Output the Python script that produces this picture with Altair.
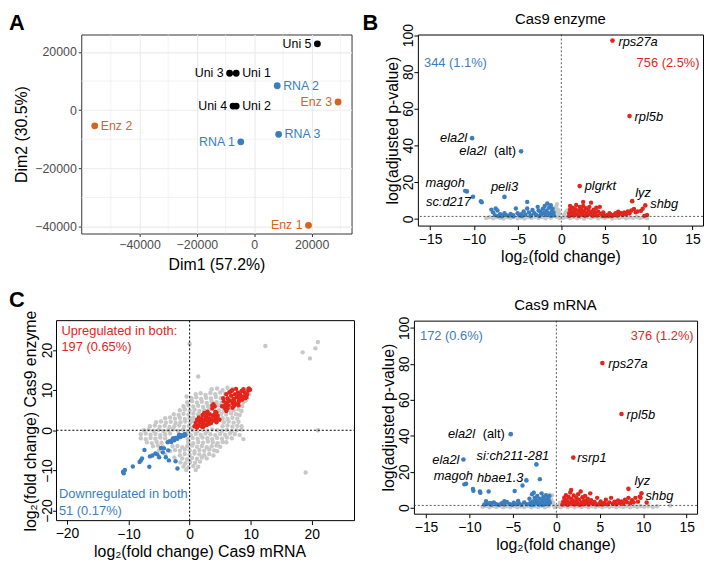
import altair as alt
import pandas as pd

FONT = "Liberation Sans"
BLUE = "#3a7ec0"
RED = "#e2261c"
ORANGE = "#d9621d"
GREY = "#c8c8c8"

# ---------------- Panel A: PCA ----------------
A_SAMPLES = ["Uni 1", "Uni 2", "Uni 3", "Uni 4", "Uni 5",
             "RNA 1", "RNA 2", "RNA 3", "Enz 1", "Enz 2", "Enz 3"]
A_DIM1 = [-6300, -6300, -8600, -7400, 22000, -4700, 8000, 8500, 18900, -55600, 29200]
A_DIM2 = [12700, 1400, 12700, 1400, 22800, -10900, 8400, -8300, -39600, -5400, 2800]
A_GROUP = ["Uninjected"] * 5 + ["Cas9 mRNA"] * 3 + ["Cas9 enzyme"] * 3
A_LEFT_LABELS = {"Uni 3", "Uni 4", "Uni 5", "RNA 1", "Enz 1", "Enz 3"}

# ---------------- Panel B: volcano, Cas9 enzyme ----------------
B_GREY = [(-8.6, 0.4), (-8.2, 0.8), (-7.8, 0.3), (-7.4, 0.9), (-7.0, 0.5), (-6.6, 0.2),
          (-6.2, 0.8), (-5.8, 0.4), (-5.4, 1.0), (-5.0, 0.3), (-4.6, 0.7), (-4.2, 0.2),
          (-3.8, 0.9), (-3.4, 0.5), (-3.0, 1.1), (-2.6, 0.4), (-2.2, 0.9), (-1.8, 0.3),
          (-1.5, 1.2), (-1.2, 0.6), (-0.9, 2.0), (-0.7, 3.5), (-0.5, 1.0), (-0.4, 5.0),
          (-0.3, 2.5), (-0.2, 0.5), (-0.6, 6.5), (-0.8, 4.5), (-0.5, 8.0), (-0.3, 3.8),
          (0.2, 0.6), (0.3, 2.0), (0.5, 3.5), (0.6, 1.0), (0.7, 4.6), (1.0, 0.4), (1.4, 0.9),
          (1.8, 0.3), (2.2, 0.8), (2.6, 0.2), (3.0, 0.9), (3.4, 0.5), (3.8, 1.0), (4.2, 0.3),
          (4.6, 0.8), (5.0, 0.4), (5.4, 0.9), (5.8, 0.2), (6.2, 0.7), (6.6, 0.4), (7.0, 0.9),
          (7.4, 0.3), (7.8, 0.8), (8.2, 0.5), (8.6, 1.0), (9.0, 0.4), (9.4, 0.8), (9.8, 0.3)]
B_BLUE = [(-11.0, 15.2), (-9.2, 9.6), (-9.1, 9.0),
          (-8.0, 5.0), (-7.8, 3.5), (-7.6, 2.0), (-7.5, 5.6), (-7.3, 4.5), (-7.0, 2.5),
          (-6.8, 1.8), (-6.5, 3.0), (-6.3, 2.0), (-6.0, 1.6), (-5.8, 2.6), (-5.5, 2.0),
          (-5.2, 5.6), (-5.0, 3.0), (-4.8, 1.9), (-4.6, 2.5), (-4.3, 4.0), (-4.1, 2.2),
          (-3.9, 9.2), (-3.9, 5.6), (-3.7, 3.5), (-3.5, 2.0), (-3.3, 4.8), (-3.1, 3.0),
          (-2.9, 2.2), (-2.7, 6.5), (-2.6, 4.5), (-2.4, 3.9), (-2.3, 2.5), (-2.1, 5.5),
          (-2.0, 3.2), (-1.9, 7.0), (-1.8, 2.0), (-1.7, 4.5), (-1.6, 8.3), (-1.5, 3.0),
          (-1.4, 6.0), (-1.3, 2.2), (-1.2, 7.4), (-1.1, 4.0), (-1.0, 5.5), (-1.0, 2.5),
          (-0.9, 3.5), (-0.85, 1.8), (-1.2, 1.6), (-2.5, 1.5), (-3.5, 1.5), (-4.5, 1.5),
          (-5.5, 1.4), (-6.8, 1.4), (-7.2, 1.5)]
B_RED = [(0.9, 1.5), (0.9, 3.0), (1.0, 5.0), (1.0, 7.0), (1.1, 2.2), (1.2, 4.0), (1.3, 6.0),
         (1.4, 1.8), (1.5, 3.3), (1.6, 5.2), (1.7, 7.5), (1.8, 2.5), (1.9, 4.5), (2.0, 1.5),
         (2.1, 6.5), (2.2, 3.5), (2.3, 5.0), (2.4, 2.2), (2.5, 9.2), (2.5, 7.0), (2.6, 4.0),
         (2.7, 1.7), (2.8, 5.8), (2.9, 3.0), (3.0, 2.0), (3.1, 4.8), (3.2, 6.5), (3.3, 2.6),
         (3.4, 8.8), (3.5, 3.8), (3.6, 1.6), (3.7, 5.0), (3.8, 2.5), (3.9, 3.5), (4.0, 6.0),
         (4.1, 1.8), (4.2, 4.0), (4.4, 6.5), (4.5, 2.8), (4.7, 1.6), (4.8, 3.5),
         (5.0, 1.5), (5.2, 2.0), (5.4, 1.7), (5.6, 2.5), (5.8, 1.5), (6.0, 2.2), (6.2, 3.0),
         (6.4, 1.8), (6.6, 2.6), (6.8, 3.2), (7.0, 2.0), (7.2, 3.5), (7.4, 2.4), (7.6, 4.0),
         (7.8, 3.0), (8.0, 4.5), (8.3, 5.3), (8.5, 3.5), (8.7, 4.0), (9.1, 4.3), (9.3, 5.5),
         (9.5, 1.6), (9.8, 2.1), (5.5, 3.0), (6.5, 3.8)]
B_LABELED = [("rps27a", 5.85, 97.0, "up"), ("rpl5b", 7.8, 55.9, "up"),
             ("ela2l", -10.2, 43.9, "down"), ("ela2l (alt)", -4.6, 36.7, "down"),
             ("magoh", -10.8, 14.9, "down"), ("sc:d217", -10.1, 12.0, "down"),
             ("peli3", -6.5, 11.9, "down"), ("plgrkt", 2.1, 17.8, "up"),
             ("lyz", 8.1, 9.6, "up"), ("shbg", 9.6, 7.3, "up")]
B_COUNTS = ["344 (1.1%)", "756 (2.5%)"]

# ---------------- Panel D: volcano, Cas9 mRNA ----------------
D_GREY = [(-8.5, 0.5), (-8.1, 1.0), (-7.7, 0.3), (-7.3, 0.9), (-6.9, 0.4), (-6.5, 1.1),
          (-6.1, 0.3), (-5.7, 0.8), (-5.3, 0.4), (-4.9, 1.0), (-4.5, 0.3), (-4.1, 0.8),
          (-3.7, 0.4), (-3.3, 1.0), (-2.9, 0.3), (-2.5, 0.9), (-2.1, 0.4), (-1.7, 1.1),
          (-1.3, 0.3), (-0.9, 0.9), (-0.8, 7.1), (-0.5, 6.9), (-0.4, 3.0), (-0.3, 1.2),
          (-0.6, 4.5), (-0.2, 0.4), (0.2, 0.8), (0.4, 2.6), (0.5, 0.3), (0.9, 1.0), (1.3, 0.4),
          (1.7, 1.0), (2.1, 0.3), (2.5, 0.9), (2.9, 0.4), (3.3, 1.0), (3.7, 0.3), (4.1, 0.8),
          (4.5, 0.4), (4.9, 1.0), (5.3, 0.3), (5.7, 0.9), (6.1, 0.4), (6.5, 1.0), (6.9, 0.3),
          (7.3, 0.8), (7.7, 0.4), (8.1, 1.0), (8.5, 0.3), (8.9, 0.9), (9.3, 0.4), (9.7, 1.0),
          (10.1, 0.5), (10.6, 0.9), (11.1, 0.4), (11.6, 0.8), (13.1, 1.3)]
D_BLUE = [(-10.6, 13.0), (-9.6, 10.4), (-9.55, 9.5), (-8.8, 9.0), (-8.75, 8.3), (-7.8, 9.0),
          (-8.0, 2.6), (-8.1, 3.7), (-4.8, 9.3), (-4.4, 3.8), (-1.9, 15.9), (-2.6, 8.4),
          (-3.9, 12.4), (-8.3, 1.8), (-7.9, 2.2), (-7.5, 1.7), (-7.2, 3.0), (-6.9, 2.0),
          (-6.6, 1.7), (-6.3, 2.5), (-6.0, 1.8), (-5.7, 3.2), (-5.4, 2.1), (-5.1, 1.7),
          (-4.9, 2.8), (-4.6, 1.9), (-4.3, 2.4), (-4.0, 1.7), (-3.7, 3.0), (-3.4, 2.0),
          (-3.1, 5.0), (-3.0, 2.6), (-2.8, 7.5), (-2.7, 3.5), (-2.6, 1.8), (-2.5, 5.5),
          (-2.4, 2.5), (-2.3, 4.2), (-2.2, 6.5), (-2.1, 3.0), (-2.0, 1.8), (-1.9, 5.0),
          (-1.8, 2.4), (-1.7, 8.0), (-1.6, 3.6), (-1.5, 6.0), (-1.4, 2.0), (-1.3, 4.5),
          (-1.2, 7.0), (-1.1, 3.0), (-1.0, 5.5), (-0.95, 2.0), (-0.85, 4.0), (-0.8, 6.5),
          (-0.75, 2.8), (-1.6, 1.7), (-2.9, 1.7), (-6.0, 3.6), (-7.6, 2.6)]
D_RED = [(0.7, 1.8), (0.8, 3.5), (0.9, 5.5), (1.0, 2.5), (1.1, 7.0), (1.2, 4.2), (1.3, 1.7),
         (1.4, 6.0), (1.5, 3.0), (1.6, 8.5), (1.7, 9.9), (1.7, 5.0), (1.8, 2.2), (1.9, 4.0),
         (2.0, 6.8), (2.1, 1.8), (2.2, 3.3), (2.3, 5.5), (2.4, 2.5), (2.5, 7.5), (2.6, 4.5),
         (2.7, 1.7), (2.8, 9.0), (2.9, 3.0), (3.0, 5.8), (3.1, 2.0), (3.2, 4.0), (3.3, 6.5),
         (3.4, 2.6), (3.5, 3.6), (3.6, 5.0), (3.7, 1.8), (3.8, 2.8), (3.9, 8.0), (4.0, 4.2),
         (4.2, 2.2), (4.4, 3.2), (4.6, 1.8), (4.7, 5.5), (4.9, 2.0), (5.1, 3.5), (5.3, 1.8),
         (5.5, 2.6), (5.7, 4.5), (5.9, 2.0), (6.1, 3.0), (6.3, 5.5), (6.5, 2.2), (6.7, 3.4),
         (6.9, 2.0), (7.1, 4.0), (7.3, 2.6), (7.5, 3.5), (7.7, 2.2), (7.9, 4.5), (8.1, 3.2),
         (8.3, 5.5), (8.5, 2.5), (8.7, 4.2), (8.9, 3.0), (9.1, 5.5), (9.4, 3.4), (9.6, 6.2),
         (10.4, 2.9), (9.7, 5.5)]
D_LABELED = [("rps27a", 5.3, 80.4, "up"), ("rpl5b", 7.5, 52.1, "up"),
             ("ela2l (alt)", -5.25, 40.9, "down"), ("ela2l", -10.7, 26.8, "down"),
             ("si:ch211-281", -2.3, 24.1, "down"), ("rsrp1", 1.95, 27.9, "up"),
             ("magoh", -10.4, 13.3, "down"), ("hbae1.3", -3.45, 15.2, "down"),
             ("lyz", 8.3, 10.5, "up"), ("shbg", 9.8, 8.0, "up")]
D_COUNTS = ["172 (0.6%)", "376 (1.2%)"]

# ---------------- Panel C: mRNA vs enzyme fold changes ----------------
C_GREY = [(3.6, 10.2), (4.5, 10.4), (5.4, 10.0), (6.2, 10.6), (7.0, 10.3), (9.4, 10.2),
          (1.0, 9.0), (1.8, 9.2), (2.6, 8.8), (3.4, 9.3), (4.2, 9.0), (5.0, 9.4), (5.8, 9.1),
          (6.6, 9.3), (9.7, 9.0),
          (-0.5, 8.4), (0.3, 8.0), (1.1, 8.2), (1.9, 7.8), (2.7, 8.1), (3.5, 7.9), (4.3, 8.3),
          (5.1, 8.0), (9.4, 8.0),
          (-0.4, 7.0), (0.4, 7.2), (1.2, 6.9), (2.0, 7.1), (2.8, 6.8), (3.6, 7.2), (4.4, 7.0),
          (5.2, 6.8), (8.8, 7.0), (9.2, 7.4),
          (-1.0, 6.0), (-0.2, 6.2), (0.6, 5.9), (1.4, 6.1), (2.2, 5.8), (3.0, 6.0), (4.6, 6.2),
          (5.4, 5.9), (6.2, 6.1), (8.6, 6.0),
          (-1.6, 5.0), (-0.8, 5.2), (0.0, 4.9), (0.8, 5.1), (1.6, 4.8), (2.4, 5.0), (3.2, 5.2),
          (4.8, 5.0), (5.6, 4.9), (6.4, 5.1), (7.2, 5.0), (8.0, 5.2), (8.5, 4.8),
          (-2.6, 4.0), (-1.8, 3.8), (-1.0, 4.1), (-0.2, 3.9), (0.6, 4.2), (1.4, 4.0), (5.2, 4.1),
          (6.0, 3.9), (6.8, 4.2), (7.6, 4.0), (8.2, 3.8),
          (-4.0, 3.0), (-3.2, 3.2), (-2.4, 2.9), (-1.6, 3.1), (-0.8, 2.8), (0.0, 3.0), (0.6, 3.2),
          (5.4, 3.0), (6.2, 2.8), (7.0, 3.1), (7.8, 2.9),
          (-5.5, 2.0), (-4.7, 2.2), (-3.9, 1.9), (-3.1, 2.1), (-2.3, 1.8), (-1.5, 2.0), (-0.7, 2.2),
          (0.1, 1.9), (0.5, 2.3), (5.6, 2.0), (6.4, 2.2), (7.2, 1.9), (8.0, 2.1),
          (-6.5, 1.0), (-5.7, 1.2), (-4.9, 0.9), (-4.1, 1.1), (-3.3, 0.8), (-2.5, 1.0), (-1.7, 1.2),
          (-0.9, 0.9), (-0.1, 1.1), (0.4, 0.6), (5.4, 1.0), (6.2, 1.2), (7.0, 0.9), (7.8, 1.1),
          (8.5, 1.0),
          (-7.5, 0.0), (-6.7, 0.2), (-5.9, -0.1), (-5.1, 0.1), (-4.3, -0.2), (-3.5, 0.0), (-2.7, 0.2),
          (-1.9, -0.1), (-1.1, 0.1), (-0.3, -0.2), (0.5, 0.0), (1.3, -0.2), (2.1, 0.1), (2.9, -0.1),
          (3.7, 0.2), (4.5, 0.0), (5.3, -0.1), (6.1, 0.1), (6.9, -0.2), (7.7, 0.0), (8.5, 0.2),
          (-8.0, -1.0), (-7.2, -0.8), (-6.4, -1.1), (-5.6, -0.9), (-4.8, -1.2), (-4.0, -1.0),
          (-3.2, -0.8), (-0.5, -1.0), (0.2, -1.2), (1.0, -0.9), (1.8, -1.1), (2.6, -0.8),
          (3.4, -1.0), (4.2, -1.2), (5.0, -0.9), (5.8, -1.1), (6.6, -0.8), (7.4, -1.0), (8.2, -1.2),
          (-8.0, -2.0), (-7.2, -2.2), (-6.4, -1.9), (-5.6, -2.1), (-4.8, -1.8), (-4.0, -2.0),
          (-0.3, -2.2), (0.5, -1.9), (1.3, -2.1), (2.1, -1.8), (2.9, -2.0), (3.7, -2.2), (4.5, -1.9),
          (5.3, -2.1), (6.1, -1.8), (6.9, -2.0), (8.8, -2.2),
          (-7.0, -3.0), (-6.2, -3.2), (-5.4, -2.9), (-4.6, -3.1), (-0.2, -3.0), (0.6, -3.2),
          (1.4, -2.9), (2.2, -3.1), (3.0, -2.8), (3.8, -3.0), (4.6, -3.2), (5.4, -2.9), (6.0, -3.0),
          (-6.0, -4.0), (-5.2, -3.8), (-4.4, -4.1), (-2.8, -4.0), (-2.0, -3.9), (-1.2, -4.2),
          (-0.4, -4.0), (0.4, -3.8), (1.2, -4.1), (2.0, -3.9), (2.8, -4.2), (3.6, -4.0),
          (4.4, -3.8), (5.0, -4.1),
          (-5.0, -5.0), (-3.2, -5.2), (-2.4, -4.9), (-1.6, -5.1), (-0.8, -4.8), (0.0, -5.0),
          (0.8, -5.2), (1.6, -4.9), (2.4, -5.1), (3.2, -4.8), (4.0, -5.0), (4.5, -5.2),
          (-4.0, -6.0), (-1.6, -6.2), (-0.8, -5.9), (0.0, -6.1), (0.8, -5.8), (1.6, -6.0),
          (2.4, -6.2), (3.2, -5.9), (3.9, -6.3),
          (-2.5, -6.8), (-1.2, -7.0), (-0.4, -7.2), (0.4, -6.9), (1.2, -7.1), (2.0, -6.8), (2.8, -7.0),
          (-1.5, -8.0), (-0.7, -8.2), (0.1, -7.9), (0.9, -8.1), (1.7, -7.8),
          (-1.0, -9.0), (-0.2, -9.2), (0.6, -8.9), (1.4, -9.1), (-0.55, -9.9), (1.0, -9.9),
          (1.4, 13.4), (0.0, 21.5), (12.4, 21.0), (18.5, 19.4), (19.7, 17.9), (20.6, 20.4),
          (21.0, 22.0), (21.0, 0.0), (19.0, -10.5)]
C_RED = [(0.8, 1.0), (1.0, 1.8), (1.2, 2.6), (1.4, 1.2), (1.5, 3.2), (1.7, 2.0), (1.9, 1.0),
         (2.0, 2.8), (2.1, 3.8), (2.3, 1.6), (2.4, 4.3), (2.5, 2.4), (2.7, 3.4), (2.8, 1.3),
         (2.9, 4.6), (3.0, 2.2), (3.2, 3.0), (3.3, 4.0), (3.5, 1.8), (3.6, 2.7), (3.8, 3.6),
         (4.0, 2.4), (4.2, 3.2), (4.4, 2.0), (4.6, 2.9), (4.9, 2.6), (3.7, 6.2), (3.9, 6.5),
         (4.1, 5.9), (4.2, 4.6), (3.7, 5.4), (1.2, 0.7), (2.2, 0.8), (1.6, 2.5), (2.6, 3.0),
         (3.4, 2.4), (4.0, 3.8), (3.0, 4.2), (2.0, 2.0), (4.6, 3.6), (1.0, 1.2), (2.4, 1.2),
         (3.2, 1.6), (4.4, 4.4),
         (5.3, 6.0), (5.6, 7.2), (5.8, 5.5), (6.0, 6.6), (6.2, 8.0), (6.4, 6.2), (6.6, 7.4),
         (6.8, 8.6), (7.0, 6.8), (7.2, 7.8), (7.4, 9.0), (7.5, 6.5), (7.7, 8.2), (7.9, 9.4),
         (8.1, 7.5), (8.3, 8.8), (8.5, 9.8), (8.8, 8.4), (9.0, 9.4), (9.3, 8.3), (9.6, 9.9),
         (9.9, 10.1), (7.0, 5.6), (6.0, 4.8), (8.0, 6.2), (9.1, 8.0), (5.5, 8.0), (6.0, 9.0),
         (6.5, 9.5), (7.0, 10.0), (6.2, 5.5), (7.2, 6.0), (8.0, 7.0), (8.6, 7.6), (9.4, 9.0),
         (8.8, 10.2), (7.6, 10.3), (6.8, 9.8), (6.3, 7.2), (7.3, 7.3), (8.2, 8.2), (5.8, 6.2),
         (9.7, 10.4), (8.0, 9.0)]
C_BLUE = [(-3.6, -3.0), (-3.3, -2.7), (-3.0, -2.9), (-2.8, -2.3), (-2.5, -2.5), (-2.3, -1.9),
          (-2.0, -2.1), (-1.8, -1.5), (-1.5, -1.7), (-1.3, -1.2), (-1.0, -1.4), (-0.8, -0.9),
          (-0.7, -1.2), (-2.7, -2.0), (-1.7, -1.1),
          (-7.4, -4.9), (-6.1, -6.3), (-4.7, -4.4), (-4.4, -5.5), (-5.0, -6.7), (-3.9, -6.7),
          (-3.4, -7.5), (-2.3, -7.7), (-2.0, -9.5), (-6.6, -9.1), (-8.2, -7.9), (-9.3, -9.0),
          (-10.9, -10.3), (-10.6, -9.9), (-10.8, -10.7), (-7.8, -7.0), (-6.5, -6.5),
          (-5.6, -5.8), (-4.2, -4.5), (-5.3, -6.0), (-3.5, -5.0), (-8.0, -7.5)]
C_UP_TEXT = ["Upregulated in both:", "197 (0.65%)"]
C_DOWN_TEXT = ["Downregulated in both", "51 (0.17%)"]
C_XTICKS = [-20, -10, 0, 10, 20]
C_XLIM = [-21.8, 27.0]
C_YLIM = [-22.5, 27.3]


def pairs_df(pairs):
    return pd.DataFrame({"x": [p[0] for p in pairs], "y": [p[1] for p in pairs]})


def base_axis(**kw):
    d = dict(domain=False, grid=False, tickColor="#000", tickSize=4, labelColor="#000",
             labelFontSize=14, labelFont=FONT, titleFont=FONT, titleFontSize=16,
             titleFontWeight="normal", titleColor="#000", labelPadding=3, titlePadding=2)
    d.update(kw)
    return alt.Axis(**d)


def text_at(t, dx, dy, size=22, weight="bold", align="left", baseline="top"):
    return alt.Chart(pd.DataFrame({"t": [t]})).mark_text(
        fontSize=size, fontWeight=weight, align=align, baseline=baseline, font=FONT,
        color="#000").encode(text="t:N", x=alt.value(dx), y=alt.value(dy))


# ---------------- build A ----------------
a_df = pd.DataFrame({"sample": A_SAMPLES, "x": A_DIM1, "y": A_DIM2, "group": A_GROUP})
a_df["side"] = ["left" if s in A_LEFT_LABELS else "right" for s in A_SAMPLES]
a_color = alt.Color("group:N", scale=alt.Scale(domain=["Uninjected", "Cas9 mRNA", "Cas9 enzyme"],
                                               range=["#000000", BLUE, ORANGE]), legend=None)
a_axis_kw = dict(format="d", grid=True, gridColor="#ebebeb", gridWidth=1.1, tickColor="#333",
                 tickSize=3, labelColor="#4d4d4d", labelFontSize=12.5, labelPadding=2)
AX = alt.X("x:Q", scale=alt.Scale(domain=[-60300, 33900], nice=False, zero=False),
           axis=base_axis(values=[-40000, -20000, 0, 20000], title="Dim1 (57.2%)",
                          titlePadding=6, **a_axis_kw))
AY = alt.Y("y:Q", scale=alt.Scale(domain=[-42400, 26000], nice=False, zero=False),
           axis=base_axis(values=[-40000, -20000, 0, 20000], title="Dim2 (30.5%)",
                          titlePadding=5, **a_axis_kw))
minor_v = alt.Chart(pd.DataFrame({"x": [-50000, -30000, -10000, 10000, 30000]})).mark_rule(
    color="#ebebeb", strokeWidth=0.6).encode(x=AX)
minor_h = alt.Chart(pd.DataFrame({"y": [-30000, -10000, 10000]})).mark_rule(
    color="#ebebeb", strokeWidth=0.6).encode(y=AY)
a_pts = alt.Chart(a_df).mark_circle(size=48, opacity=1).encode(x=AX, y=AY, color=a_color)
a_lab_l = alt.Chart(a_df[a_df.side == "left"]).mark_text(
    align="right", dx=-6, fontSize=12.5, font=FONT).encode(x=AX, y=AY, text="sample:N", color=a_color)
a_lab_r = alt.Chart(a_df[a_df.side == "right"]).mark_text(
    align="left", dx=6, fontSize=12.5, font=FONT).encode(x=AX, y=AY, text="sample:N", color=a_color)
panel_a = alt.layer(minor_v, minor_h, a_pts, a_lab_l, a_lab_r, text_at("A", -73, -22)).properties(
    width=273, height=201, view=alt.ViewBackground(stroke="#333333", strokeWidth=1))


# ---------------- volcano builder ----------------
def volcano(grey, blue, red, labeled, layout, title, counts, count_y, ydom, width, height,
            letter_spec=None):
    X = alt.X("x:Q", scale=alt.Scale(domain=[-16.4, 16.2], nice=False, zero=False),
              axis=base_axis(values=[-15, -10, -5, 0, 5, 10, 15], title="log₂(fold change)"))
    Y = alt.Y("y:Q", scale=alt.Scale(domain=ydom, nice=False, zero=False),
              axis=base_axis(values=[0, 20, 40, 60, 80, 100], title="log(adjusted p-value)",
                             labelAngle=270, labelAlign="center", labelBaseline="alphabetic",
                             labelPadding=1))
    layers = []
    for pairs, col in ((grey, GREY), (blue, BLUE), (red, RED)):
        layers.append(alt.Chart(pairs_df(pairs)).mark_circle(size=20, opacity=1, color=col)
                      .encode(x=X, y=Y))
    lab = pd.DataFrame(labeled, columns=["label", "x", "y", "dir"])
    for d, col in (("down", BLUE), ("up", RED)):
        layers.append(alt.Chart(lab[lab.dir == d]).mark_circle(size=22, opacity=1, color=col)
                      .encode(x=X, y=Y))
    layers.append(alt.Chart(pd.DataFrame({"x": [0]})).mark_rule(
        color="#333", strokeDash=[2, 2], strokeWidth=0.8).encode(x=X))
    layers.append(alt.Chart(pd.DataFrame({"y": [1.3]})).mark_rule(
        color="#333", strokeDash=[2, 2], strokeWidth=0.8).encode(y=Y))
    for name, (align, dx, dy) in layout.items():
        row = lab[lab.label == name]
        if name == "ela2l (alt)":
            r2 = row.assign(a="(alt)", b="ela2l")
            layers.append(alt.Chart(r2).mark_text(align="right", dx=dx, dy=dy, fontSize=13, font=FONT)
                          .encode(x=X, y=Y, text="a:N"))
            layers.append(alt.Chart(r2).mark_text(align="right", dx=dx - 30, dy=dy, fontSize=13,
                                                  font=FONT, fontStyle="italic")
                          .encode(x=X, y=Y, text="b:N"))
        else:
            layers.append(alt.Chart(row).mark_text(align=align, dx=dx, dy=dy, fontSize=13, font=FONT,
                                                   fontStyle="italic").encode(x=X, y=Y, text="label:N"))
    cnt = pd.DataFrame({"t": counts, "x": [-15.7, 15.8], "y": [count_y, count_y]})
    layers.append(alt.Chart(cnt.iloc[[0]]).mark_text(align="left", fontSize=13, font=FONT, color=BLUE)
                  .encode(x=X, y=Y, text="t:N"))
    layers.append(alt.Chart(cnt.iloc[[1]]).mark_text(align="right", fontSize=13, font=FONT, color=RED)
                  .encode(x=X, y=Y, text="t:N"))
    layers.append(text_at(title, width / 2, -23, size=15, weight="normal", align="center",
                          baseline="top"))
    if letter_spec:
        layers.append(text_at(*letter_spec))
    return alt.layer(*layers).properties(
        width=width, height=height, view=alt.ViewBackground(stroke="#000", strokeWidth=1))


B_LAYOUT = {"rps27a": ("left", 6, 1), "rpl5b": ("left", 5, 1), "ela2l": ("right", -5, 0),
            "ela2l (alt)": ("right", -5, 0), "magoh": ("right", -2, -8), "sc:d217": ("right", -2, 5),
            "peli3": ("center", 0, -10), "plgrkt": ("left", 5, 0), "lyz": ("left", 3, -8),
            "shbg": ("left", 5, -1)}
D_LAYOUT = {"rps27a": ("left", 6, 1), "rpl5b": ("left", 5, 1), "ela2l (alt)": ("right", -6, 0),
            "ela2l": ("right", -4, 0), "si:ch211-281": ("right", 13, -8), "rsrp1": ("left", 4, 0),
            "magoh": ("right", 7, -8), "hbae1.3": ("right", -3, -2), "lyz": ("left", 6, -8),
            "shbg": ("left", 4, 3)}

panel_b = volcano(B_GREY, B_BLUE, B_RED, B_LABELED, B_LAYOUT, "Cas9 enzyme", B_COUNTS, 85,
                  [-3.7, 100.3], 288, 193, ("B", -56, -22))
panel_d = volcano(D_GREY, D_BLUE, D_RED, D_LABELED, D_LAYOUT, "Cas9 mRNA", D_COUNTS, 95.5,
                  [-3.3, 104.0], 286, 195)

# ---------------- build C ----------------
# The frame of C starts C_SHIFT px left of its view so that its plot can sit further left
# than panel A's plot while the two rows stay origin-aligned.
C_FRAME_W = 301
C_H = 202
C_SHIFT = 25
c_ppu = C_FRAME_W / (C_XLIM[1] - C_XLIM[0])
c_view_left = C_XLIM[0] + C_SHIFT / c_ppu
c_in_view = [v for v in C_XTICKS if v >= c_view_left]
c_out_view = [v for v in C_XTICKS if v < c_view_left]
CX = alt.X("x:Q", scale=alt.Scale(domain=[c_view_left, C_XLIM[1]], nice=False, zero=False),
           axis=base_axis(values=c_in_view, title="log₂(fold change) Cas9 mRNA",
                          titleX=(C_FRAME_W / 2) - C_SHIFT - 6))
CY = alt.Y("y:Q", scale=alt.Scale(domain=C_YLIM, nice=False, zero=False),
           axis=base_axis(values=[-20, -10, 0, 10, 20], title="log₂(fold change) Cas9 enzyme",
                          labelAngle=270, labelAlign="center", labelBaseline="alphabetic",
                          labelPadding=1, offset=C_SHIFT))
c_layers = []
for pairs, col in ((C_GREY, GREY), (C_BLUE, BLUE), (C_RED, RED)):
    c_layers.append(alt.Chart(pairs_df(pairs)).mark_circle(size=20, opacity=1, color=col)
                    .encode(x=CX, y=CY))
c_layers.append(alt.Chart(pd.DataFrame({"x": [0]})).mark_rule(
    color="#000", strokeDash=[2, 2], strokeWidth=1).encode(x=CX))
c_layers.append(alt.Chart(pd.DataFrame({"x": [C_XLIM[0]], "x2": [C_XLIM[1]], "y": [0]})).mark_rule(
    color="#000", strokeDash=[2, 2], strokeWidth=1).encode(x=CX, x2="x2", y=CY))
c_layers.append(alt.Chart(pd.DataFrame({"x": [C_XLIM[0]], "x2": [C_XLIM[1]],
                                        "y": [C_YLIM[0]], "y2": [C_YLIM[1]]})).mark_rect(
    fillOpacity=0, stroke="#000", strokeWidth=1).encode(x=CX, x2="x2", y=CY, y2="y2"))
# x ticks that fall left of the view are drawn by hand with the same scale
out_df = pd.DataFrame({"x": c_out_view, "t": [f"−{abs(v)}" if v < 0 else str(v) for v in c_out_view]})
c_layers.append(alt.Chart(out_df).mark_rule(color="#000").encode(
    x=CX, y=alt.value(C_H), y2=alt.value(C_H + 4)))
c_layers.append(alt.Chart(out_df).mark_text(fontSize=14, font=FONT, baseline="top", align="center",
                                            color="#000").encode(
    x=CX, y=alt.value(C_H + 7), text="t:N"))
c_up = pd.DataFrame({"t": C_UP_TEXT, "x": [-21.0, -21.0], "y": [24.7, 20.8]})
c_dn = pd.DataFrame({"t": C_DOWN_TEXT, "x": [-21.4, -21.4], "y": [-15.9, -20.0]})
c_layers.append(alt.Chart(c_up).mark_text(align="left", fontSize=13, font=FONT, color=RED)
                .encode(x=CX, y=CY, text="t:N"))
c_layers.append(alt.Chart(c_dn).mark_text(align="left", fontSize=13, font=FONT, color=BLUE)
                .encode(x=CX, y=CY, text="t:N"))
c_layers.append(text_at("C", -C_SHIFT - 48, -31))
panel_c = alt.layer(*c_layers).properties(
    width=C_FRAME_W - C_SHIFT, height=C_H,
    view=alt.ViewBackground(stroke="transparent", strokeWidth=0))

top = alt.hconcat(panel_a, panel_b, spacing=9)
bottom = alt.hconcat(panel_c, panel_d, spacing=24)
chart = alt.vconcat(top, bottom, spacing=16).properties(
    padding={"left": 0, "top": 0, "right": 0, "bottom": 0}, background="white").configure_text(
    font=FONT)

chart.save("out.html", embed_options={"renderer": "svg", "actions": False})
